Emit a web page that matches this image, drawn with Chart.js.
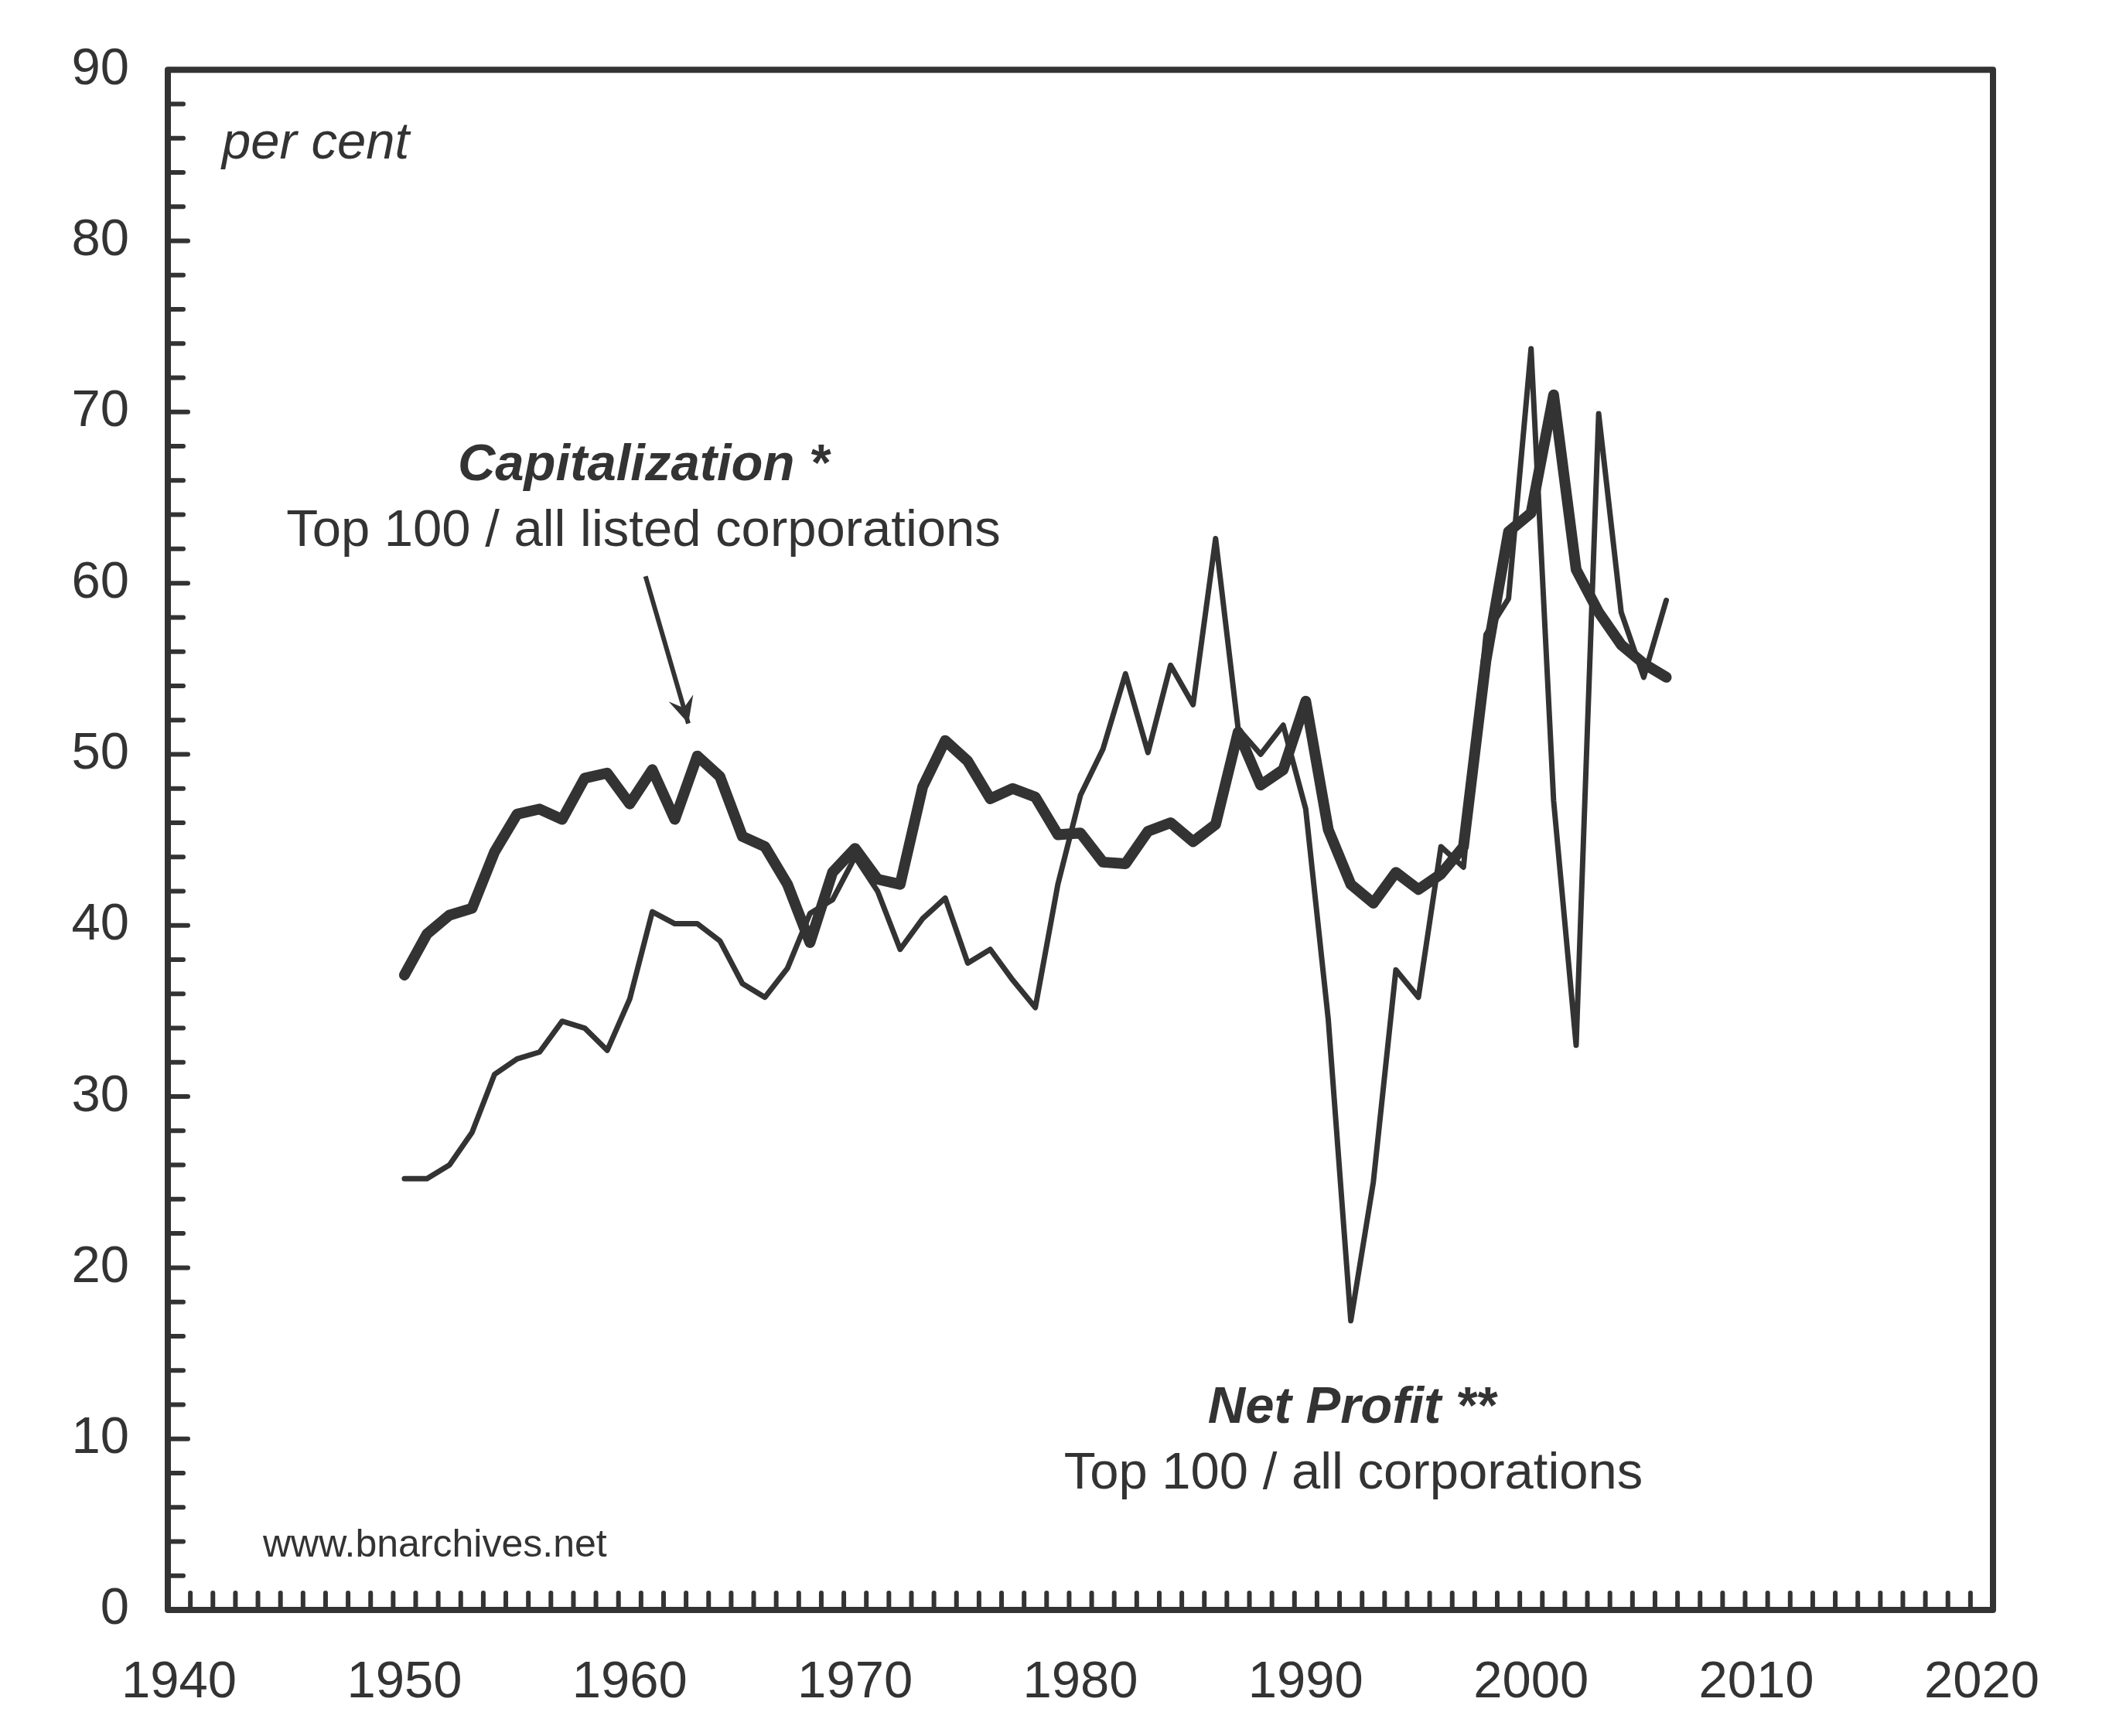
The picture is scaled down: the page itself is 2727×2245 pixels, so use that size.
<!DOCTYPE html>
<html>
<head>
<meta charset="utf-8">
<script src="https://cdn.jsdelivr.net/npm/chart.js@4.4.1/dist/chart.umd.min.js"></script>
<style>
  body { margin: 0; background: #fff; }
  #wrap { width: 2727px; height: 2245px; }
</style>
</head>
<body>
<div id="wrap"><canvas id="grafico"></canvas></div>
<script>
// Dados
const anos = [1950,1951,1952,1953,1954,1955,1956,1957,1958,1959,
  1960,1961,1962,1963,1964,1965,1966,1967,1968,1969,
  1970,1971,1972,1973,1974,1975,1976,1977,1978,1979,
  1980,1981,1982,1983,1984,1985,1986,1987,1988,1989,
  1990,1991,1992,1993,1994,1995,1996,1997,1998,1999,
  2000,2001,2002,2003,2004,2005,2006];

// Capitalization: Top 100 / all listed corporations
const capitalizacao = [37.1,39.5,40.6,41.0,44.3,46.5,46.8,46.2,48.6,48.9,
  47.1,49.1,46.2,49.9,48.7,45.2,44.6,42.4,39.0,43.1,
  44.5,42.7,42.4,48.1,50.8,49.6,47.4,48.0,47.5,45.3,
  45.4,43.7,43.6,45.5,46.0,44.9,45.9,51.3,48.2,49.1,
  53.1,45.6,42.4,41.3,43.1,42.1,43.0,44.6,55.5,63.0,
  64.1,71.0,60.8,58.3,56.4,55.3,54.5];

// Net Profit: Top 100 / all corporations
const lucroLiquido = [25.2,25.2,26.0,27.9,31.3,32.2,32.6,34.4,34.0,32.7,
  35.7,40.8,40.1,40.1,39.1,36.6,35.8,37.5,40.7,41.5,
  44.0,42.0,38.6,40.4,41.6,37.8,38.6,36.8,35.2,42.4,
  47.6,50.3,54.7,50.1,55.2,52.9,62.6,51.5,50.0,51.7,
  46.8,34.5,16.9,25.0,37.4,35.8,44.6,43.4,57.0,59.1,
  73.7,47.3,33.0,69.9,58.3,54.5,59.0];

const ticksX = [1940,1950,1960,1970,1980,1990,2000,2010,2020];
const ticksY = [0,10,20,30,40,50,60,70,80,90];

const cor = '#333333';
const fonte = '"Liberation Sans", Arial, Helvetica, sans-serif';

// moldura, marcas menores e textos
const extras = {
  id: 'extras',
  afterDraw(chart) {
    const c = chart.ctx;
    const a = chart.chartArea;
    const x = chart.scales.x, y = chart.scales.y;
    c.save();
    c.strokeStyle = cor;
    c.fillStyle = cor;
    c.lineCap = 'round';

    // marcas do eixo x (entre os anos)
    c.lineWidth = 6;
    for (let v = 1940.5; v < 2020; v += 1) {
      const px = x.getPixelForValue(v);
      c.beginPath();
      c.moveTo(px, a.bottom);
      c.lineTo(px, a.bottom - 22);
      c.stroke();
    }
    // marcas do eixo y (a cada 2)
    for (let v = 2; v < 90; v += 2) {
      const py = y.getPixelForValue(v);
      const len = v % 10 === 0 ? 26 : 20;
      c.beginPath();
      c.moveTo(a.left, py);
      c.lineTo(a.left + len, py);
      c.stroke();
    }

    // moldura
    c.lineWidth = 8;
    c.lineJoin = 'round';
    c.strokeRect(a.left, a.top, a.right - a.left, a.bottom - a.top);

    // seta
    const x0 = x.getPixelForValue(1960.7), y0 = y.getPixelForValue(60.4);
    const x1 = x.getPixelForValue(1962.6), y1 = y.getPixelForValue(51.8);
    c.lineWidth = 6;
    c.lineCap = 'butt';
    c.beginPath();
    c.moveTo(x0, y0);
    c.lineTo(x1, y1);
    c.stroke();
    const ang = Math.atan2(y1 - y0, x1 - x0);
    const L = 38, w = 0.45;
    c.beginPath();
    c.moveTo(x1, y1);
    c.lineTo(x1 - L * Math.cos(ang - w), y1 - L * Math.sin(ang - w));
    c.lineTo(x1 - L * 0.55 * Math.cos(ang), y1 - L * 0.55 * Math.sin(ang));
    c.lineTo(x1 - L * Math.cos(ang + w), y1 - L * Math.sin(ang + w));
    c.closePath();
    c.fill();

    // textos
    c.textBaseline = 'alphabetic';
    c.textAlign = 'left';
    c.font = 'italic 67px ' + fonte;
    c.fillText('per cent', 287, 205);

    c.textAlign = 'center';
    c.font = 'italic bold 67px ' + fonte;
    c.fillText('Capitalization *', 832, 621);
    c.font = '67px ' + fonte;
    c.fillText('Top 100 / all listed corporations', 832, 706);

    c.font = 'italic bold 67px ' + fonte;
    c.fillText('Net Profit **', 1748, 1840);
    c.font = '67px ' + fonte;
    c.fillText('Top 100 / all corporations', 1750, 1925);

    c.textAlign = 'left';
    c.font = '50px ' + fonte;
    c.fillText('www.bnarchives.net', 340, 2013);
    c.restore();
  }
};

const ctx = document.getElementById('grafico').getContext('2d');
const grafico = new Chart(ctx, {
  type: 'line',
  data: {
    datasets: [{
      label: 'Capitalization',
      data: anos.map((a, i) => ({ x: a, y: capitalizacao[i] })),
      borderColor: cor,
      borderWidth: 14,
      borderCapStyle: 'round',
      borderJoinStyle: 'round',
      pointRadius: 0,
      tension: 0,
      fill: false
    }, {
      label: 'Net Profit',
      data: anos.map((a, i) => ({ x: a, y: lucroLiquido[i] })),
      borderColor: cor,
      borderWidth: 7,
      borderCapStyle: 'round',
      borderJoinStyle: 'round',
      pointRadius: 0,
      tension: 0,
      fill: false
    }]
  },
  options: {
    responsive: true,
    maintainAspectRatio: false,
    animation: false,
    layout: {
      padding: { top: 89, right: 150, left: 0, bottom: 0 }
    },
    plugins: {
      legend: { display: false },
      tooltip: { enabled: false }
    },
    scales: {
      x: {
        type: 'linear',
        min: 1939.5,
        max: 2020.5,
        afterBuildTicks(scale) {
          scale.ticks = ticksX.map(v => ({ value: v }));
        },
        afterFit(scale) { scale.height = 163; },
        grid: { display: false, drawTicks: false },
        border: { display: false },
        ticks: {
          padding: 54,
          color: cor,
          maxRotation: 0,
          autoSkip: false,
          font: { family: fonte, size: 67 },
          callback: v => String(v)
        }
      },
      y: {
        min: 0,
        max: 90,
        afterBuildTicks(scale) {
          scale.ticks = ticksY.map(v => ({ value: v }));
        },
        afterFit(scale) { scale.width = 217; },
        grid: { display: false, drawTicks: false },
        border: { display: false },
        ticks: {
          padding: 50,
          color: cor,
          font: { family: fonte, size: 67 }
        }
      }
    }
  },
  plugins: [extras]
});
</script>
</body>
</html>
